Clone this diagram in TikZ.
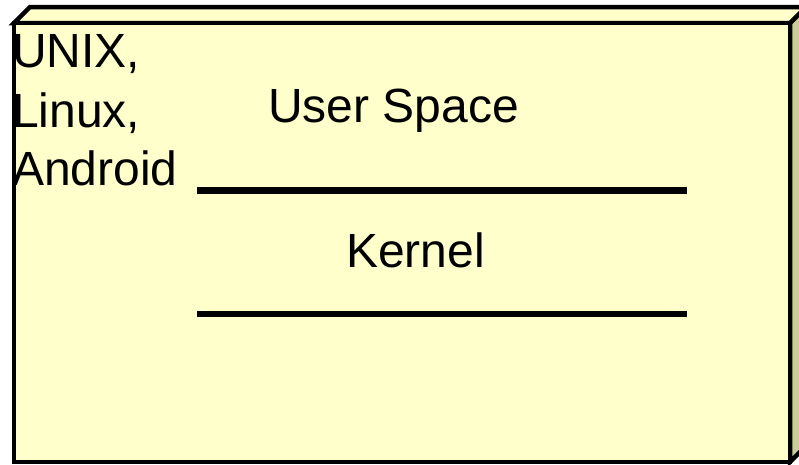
\documentclass[tikz,border=0pt]{standalone}
\usepackage{fontspec}
\setmainfont{Liberation Sans}
\definecolor{facefront}{HTML}{FFFFCC}
\definecolor{facetop}{HTML}{FFFFCC}
\definecolor{faceside}{HTML}{CCCC99}
\tikzset{
  boxedge/.style={draw=black, line width=4.5pt, line join=miter},
  label/.style={inner sep=0pt, anchor=base, font=\fontsize{48}{59}\selectfont},
  oslabel/.style={inner sep=0pt, anchor=base west, font=\fontsize{48}{59}\selectfont},
  divider/.style={draw=black, line width=6.5pt}
}
\begin{document}
\begin{tikzpicture}[x=1pt, y=-1pt]
\useasboundingbox (0,0) rectangle (799,464);
\begin{scope}
\clip (0,0) rectangle (799,464);
% side face
\filldraw[fill=faceside, boxedge] (790,23) -- (806,7) -- (806,446) -- (790,462) -- cycle;
% top face
\filldraw[fill=facetop, boxedge] (14,23) -- (30,7) -- (806,7) -- (790,23) -- cycle;
% front face
\filldraw[fill=facefront, boxedge] (14,23) rectangle (790,462);
\end{scope}
\node[oslabel] (unix) at (12,67) {UNIX,};
\node[oslabel] (linux) at (12,127) {Linux,};
\node[oslabel] (android) at (12,185) {Android};
\node[label] (user) at (393.5,122) {User Space};
\node[label] (kernel) at (415.5,267) {Kernel};
\coordinate (l1a) at (197,190.5);
\coordinate (l1b) at (687,190.5);
\coordinate (l2a) at (197,314);
\coordinate (l2b) at (687,314);
\draw[divider] (l1a) -- (l1b);
\draw[divider] (l2a) -- (l2b);
\end{tikzpicture}
\end{document}
